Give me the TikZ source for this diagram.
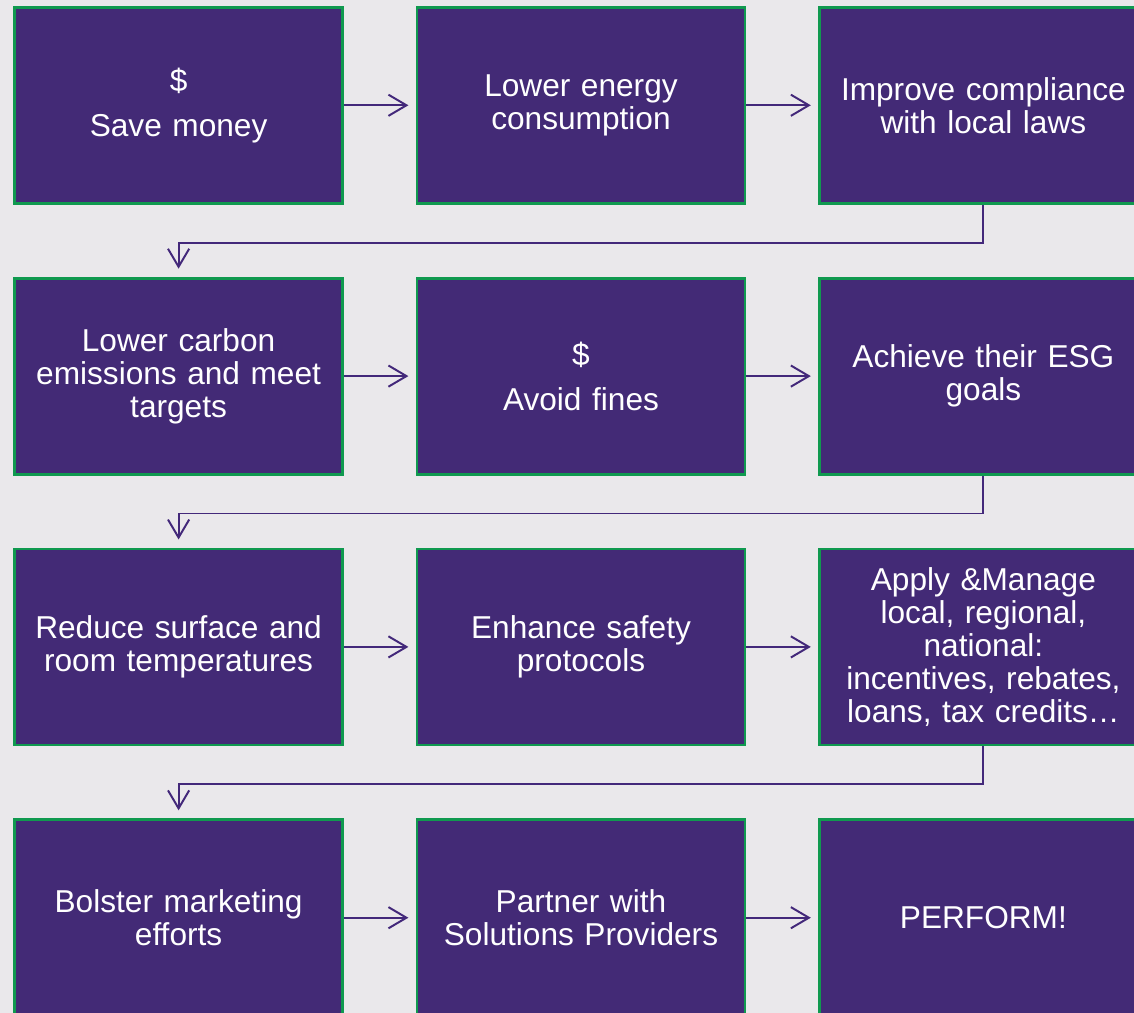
\documentclass[tikz,border=0pt]{standalone}
\usepackage{fontspec}
\setmainfont{Liberation Sans}
\usepackage{xcolor}
\usepackage{tikz}
\usetikzlibrary{matrix}
\usetikzlibrary{arrows.meta}
\definecolor{stepfill}{HTML}{432A76}
\definecolor{stepedge}{HTML}{10994F}
\definecolor{flowline}{HTML}{43287A}
\definecolor{pagebg}{HTML}{EAE8EB}

\begin{document}
\begin{tikzpicture}[
			     stepbox/.style={draw=stepedge, line width=2pt, fill=stepfill, text=white,
			       minimum width=8.2cm, minimum height=4.9cm, text width=7.8cm, align=center,
			       inner sep=0pt, anchor=center, font=\fontsize{22.5pt}{23.4pt}\selectfont},
			     flow/.style={draw=flowline, line width=1.4pt, -{Straight Barb[length=0.45cm, width=0.53cm]}}
			     ]
\useasboundingbox (0,0) rectangle (28.35,-25.325);
\fill[pagebg] (0,0) rectangle (28.35,-25.325);
\clip (0,0) rectangle (28.35,-25.325);
\matrix (m) [matrix of nodes, nodes={stepbox}, row sep=1.8cm, column sep=1.79cm, inner sep=0pt] at (14.525,-12.7875) {%
{\$\\[0.3cm]Save money}  &  {Lower energy\\consumption}  &  {Improve compliance\\with local laws}
\\
{Lower carbon\\emissions and meet\\targets}  &  {\$\\[0.3cm]Avoid fines}  &  {Achieve their ESG\\goals}
\\
{Reduce surface and\\room temperatures}  &  {Enhance safety\\protocols}  &  {Apply \&Manage\\local, regional,\\national:\\incentives, rebates,\\loans, tax credits\dots}
\\
{Bolster marketing\\efforts}  &  {Partner with\\Solutions Providers}  &  {PERFORM!}
\\
};
% across each row
\path[flow, shorten >=0.18cm] (m-1-1) edge (m-1-2);
\path[flow, shorten >=0.18cm] (m-1-2) edge (m-1-3);
\path[flow, shorten >=0.18cm] (m-2-1) edge (m-2-2);
\path[flow, shorten >=0.18cm] (m-2-2) edge (m-2-3);
\path[flow, shorten >=0.18cm] (m-3-1) edge (m-3-2);
\path[flow, shorten >=0.18cm] (m-3-2) edge (m-3-3);
\path[flow, shorten >=0.18cm] (m-4-1) edge (m-4-2);
\path[flow, shorten >=0.18cm] (m-4-2) edge (m-4-3);
% down to the next row
\draw[flow, shorten >=0.2cm] (m-1-3.south) -- ++(0,-0.95) -| (m-2-1.north);
\draw[flow, shorten >=0.2cm] (m-2-3.south) -- ++(0,-0.95) -| (m-3-1.north);
\draw[flow, shorten >=0.2cm] (m-3-3.south) -- ++(0,-0.95) -| (m-4-1.north);
\end{tikzpicture}
\end{document}
